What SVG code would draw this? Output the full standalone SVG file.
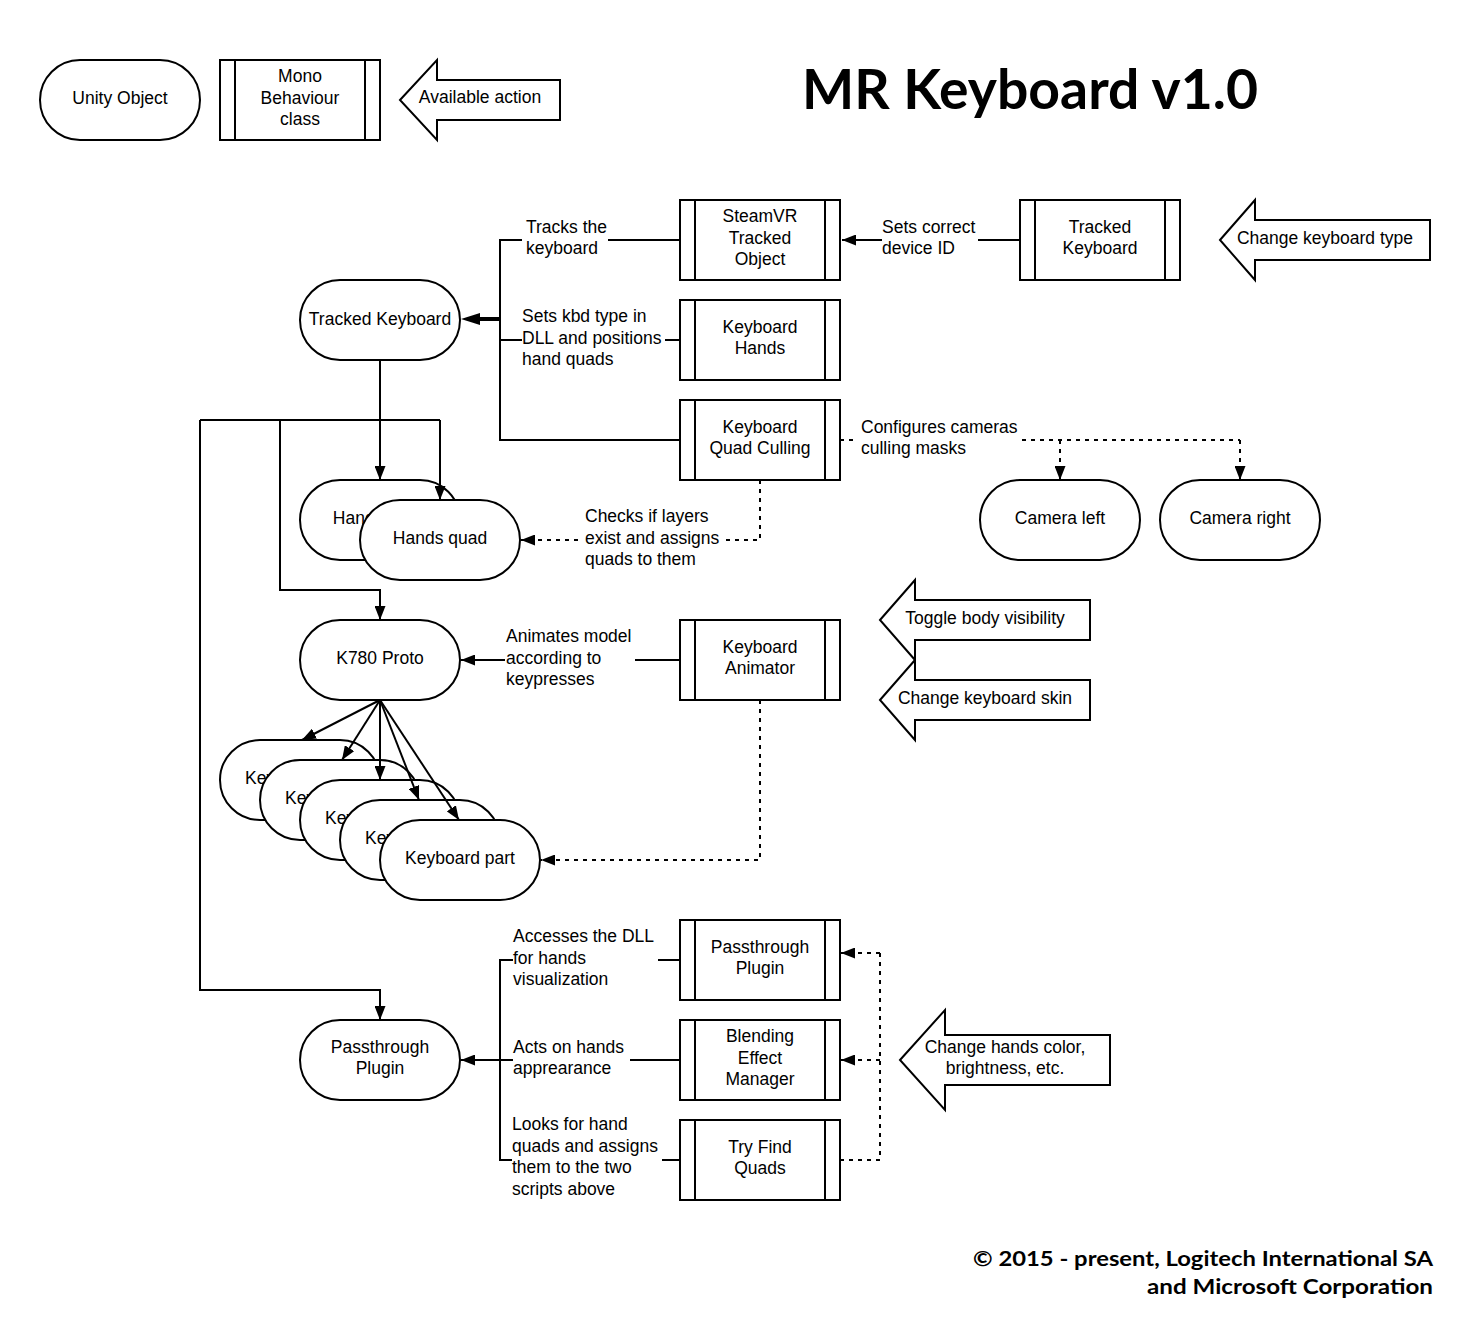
<svg xmlns="http://www.w3.org/2000/svg" width="1480" height="1340" viewBox="0 0 1480 1340">
<style>
.s{fill:#fff;stroke:#000;stroke-width:2}
.c{fill:none;stroke:#000;stroke-width:2}
.d{fill:none;stroke:#000;stroke-width:2;stroke-dasharray:4 5}
.ar{marker-end:url(#ah)}
text{font-family:"Liberation Sans",Arial,sans-serif;font-size:17.5px;fill:#000}
.m{text-anchor:middle}
text.title{font-family:Lato,"Open Sans",sans-serif;font-weight:700;font-size:55px}
text.copy{font-family:Lato,"Open Sans",sans-serif;font-weight:700;font-size:21px;text-anchor:end}
</style>
<defs>
<marker id="ah" markerUnits="userSpaceOnUse" markerWidth="15" markerHeight="11" refX="14" refY="5.5" orient="auto"><path d="M0,0 L14,5.5 L0,11 z" fill="#000"/></marker>
</defs>
<rect width="1480" height="1340" fill="#fff"/>

<!-- Legend -->
<g id="legend-unity">
<rect class="s" x="40" y="60" width="160" height="80" rx="40"/>
<text class="m" x="120" y="104">Unity Object</text>
</g>
<g id="legend-mono">
<rect class="s" x="220" y="60" width="160" height="80"/>
<line class="c" x1="235" y1="60" x2="235" y2="140"/><line class="c" x1="365" y1="60" x2="365" y2="140"/>
<text class="m" x="300" y="82">Mono</text><text class="m" x="300" y="103.5">Behaviour</text><text class="m" x="300" y="125">class</text>
</g>
<g id="legend-action">
<polygon class="s" points="400,100 437,60 437,80 560,80 560,120 437,120 437,140"/>
<text class="m" x="480" y="103">Available action</text>
</g>

<text class="title" x="802" y="109" textLength="456" lengthAdjust="spacingAndGlyphs">MR Keyboard v1.0</text>

<!-- Nodes -->
<g id="tracked-keyboard-obj">
<rect class="s" x="300" y="280" width="160" height="80" rx="40"/>
<text class="m" x="380" y="325">Tracked Keyboard</text>
</g>
<g id="steamvr-tracked-object">
<rect class="s" x="680" y="200" width="160" height="80"/>
<line class="c" x1="695" y1="200" x2="695" y2="280"/><line class="c" x1="825" y1="200" x2="825" y2="280"/>
<text class="m" x="760" y="222">SteamVR</text><text class="m" x="760" y="243.5">Tracked</text><text class="m" x="760" y="265">Object</text>
</g>
<g id="keyboard-hands">
<rect class="s" x="680" y="300" width="160" height="80"/>
<line class="c" x1="695" y1="300" x2="695" y2="380"/><line class="c" x1="825" y1="300" x2="825" y2="380"/>
<text class="m" x="760" y="333">Keyboard</text><text class="m" x="760" y="354">Hands</text>
</g>
<g id="keyboard-quad-culling">
<rect class="s" x="680" y="400" width="160" height="80"/>
<line class="c" x1="695" y1="400" x2="695" y2="480"/><line class="c" x1="825" y1="400" x2="825" y2="480"/>
<text class="m" x="760" y="433">Keyboard</text><text class="m" x="760" y="454">Quad Culling</text>
</g>
<g id="tracked-keyboard-class">
<rect class="s" x="1020" y="200" width="160" height="80"/>
<line class="c" x1="1035" y1="200" x2="1035" y2="280"/><line class="c" x1="1165" y1="200" x2="1165" y2="280"/>
<text class="m" x="1100" y="233">Tracked</text><text class="m" x="1100" y="254">Keyboard</text>
</g>
<g id="action-change-keyboard-type">
<polygon class="s" points="1220,240 1255,200 1255,220 1430,220 1430,260 1255,260 1255,280"/>
<text class="m" x="1325" y="244">Change keyboard type</text>
</g>
<g id="hands-quad-back">
<rect class="s" x="300" y="480" width="160" height="80" rx="40"/>
<text class="m" x="380" y="524">Hands quad</text>
</g>
<g id="hands-quad-front">
<rect class="s" x="360" y="500" width="160" height="80" rx="40"/>
<text class="m" x="440" y="544">Hands quad</text>
</g>
<g id="camera-left">
<rect class="s" x="980" y="480" width="160" height="80" rx="40"/>
<text class="m" x="1060" y="524">Camera left</text>
</g>
<g id="camera-right">
<rect class="s" x="1160" y="480" width="160" height="80" rx="40"/>
<text class="m" x="1240" y="524">Camera right</text>
</g>
<g id="k780-proto">
<rect class="s" x="300" y="620" width="160" height="80" rx="40"/>
<text class="m" x="380" y="664">K780 Proto</text>
</g>
<g id="keyboard-animator">
<rect class="s" x="680" y="620" width="160" height="80"/>
<line class="c" x1="695" y1="620" x2="695" y2="700"/><line class="c" x1="825" y1="620" x2="825" y2="700"/>
<text class="m" x="760" y="653">Keyboard</text><text class="m" x="760" y="674">Animator</text>
</g>
<g id="action-toggle-body">
<polygon class="s" points="880,620 915,580 915,600 1090,600 1090,640 915,640 915,660"/>
<text class="m" x="985" y="624">Toggle body visibility</text>
</g>
<g id="action-change-skin">
<polygon class="s" points="880,700 915,660 915,680 1090,680 1090,720 915,720 915,740"/>
<text class="m" x="985" y="704">Change keyboard skin</text>
</g>
<g id="keyboard-part-1">
<rect class="s" x="220" y="740" width="160" height="80" rx="40"/>
<text class="m" x="300" y="784">Keyboard part</text>
</g>
<g id="keyboard-part-2">
<rect class="s" x="260" y="760" width="160" height="80" rx="40"/>
<text class="m" x="340" y="804">Keyboard part</text>
</g>
<g id="keyboard-part-3">
<rect class="s" x="300" y="780" width="160" height="80" rx="40"/>
<text class="m" x="380" y="824">Keyboard part</text>
</g>
<g id="keyboard-part-4">
<rect class="s" x="340" y="800" width="160" height="80" rx="40"/>
<text class="m" x="420" y="844">Keyboard part</text>
</g>
<g id="keyboard-part-5">
<rect class="s" x="380" y="820" width="160" height="80" rx="40"/>
<text class="m" x="460" y="864">Keyboard part</text>
</g>
<g id="passthrough-plugin-obj">
<rect class="s" x="300" y="1020" width="160" height="80" rx="40"/>
<text class="m" x="380" y="1053">Passthrough</text><text class="m" x="380" y="1074">Plugin</text>
</g>
<g id="passthrough-plugin-class">
<rect class="s" x="680" y="920" width="160" height="80"/>
<line class="c" x1="695" y1="920" x2="695" y2="1000"/><line class="c" x1="825" y1="920" x2="825" y2="1000"/>
<text class="m" x="760" y="953">Passthrough</text><text class="m" x="760" y="974">Plugin</text>
</g>
<g id="blending-effect-manager">
<rect class="s" x="680" y="1020" width="160" height="80"/>
<line class="c" x1="695" y1="1020" x2="695" y2="1100"/><line class="c" x1="825" y1="1020" x2="825" y2="1100"/>
<text class="m" x="760" y="1042">Blending</text><text class="m" x="760" y="1063.5">Effect</text><text class="m" x="760" y="1085">Manager</text>
</g>
<g id="try-find-quads">
<rect class="s" x="680" y="1120" width="160" height="80"/>
<line class="c" x1="695" y1="1120" x2="695" y2="1200"/><line class="c" x1="825" y1="1120" x2="825" y2="1200"/>
<text class="m" x="760" y="1153">Try Find</text><text class="m" x="760" y="1174">Quads</text>
</g>
<g id="action-change-hands">
<polygon class="s" points="900,1060 945,1010 945,1035 1110,1035 1110,1085 945,1085 945,1110"/>
<text class="m" x="1005" y="1053">Change hands color,</text><text class="m" x="1005" y="1074">brightness, etc.</text>
</g>

<!-- Connectors -->
<g id="connectors">
<path class="c" d="M680,240 H608 M522,240 H500 V440 H680"/>
<path class="c" d="M680,340 H665 M522,340 H500"/>
<line x1="478" y1="319" x2="500" y2="319" stroke="#000" stroke-width="4"/>
<path d="M461,319 L480,313 L480,325 z" fill="#000"/>
<path class="c ar" d="M978,240 H1020 M882,240 H842"/>
<path class="c ar" d="M380,360 V480"/>
<path class="c" d="M200,420 H440"/>
<path class="c ar" d="M440,420 V500"/>
<path class="c ar" d="M280,420 V590 H380 V620"/>
<path class="c ar" d="M200,420 V990 H380 V1020"/>
<path class="d" d="M760,480 V540 H722"/>
<path class="d ar" d="M578,540 H521"/>
<path class="d" d="M840,440 H858"/>
<path class="d" d="M1022,440 H1240"/>
<path class="d ar" d="M1060,440 V480"/>
<path class="d ar" d="M1240,440 V480"/>
<path class="c" d="M680,660 H635"/>
<path class="c ar" d="M505,660 H461"/>
<path class="d ar" d="M760,700 V860 H541"/>
<path class="c ar" d="M380,700 L302,740"/>
<path class="c ar" d="M380,700 L342,760"/>
<path class="c ar" d="M380,700 L380,780"/>
<path class="c ar" d="M380,700 L419,800"/>
<path class="c ar" d="M380,700 L459,820"/>
<path class="c" d="M680,960 H658 M513,960 H500 V1160 H512 M662,1160 H680"/>
<path class="c" d="M680,1060 H630 M513,1060 H500"/>
<path class="c ar" d="M500,1060 H461"/>
<path class="d" d="M840,1160 H880 V953"/>
<path class="d ar" d="M880,953 H841"/>
<path class="d ar" d="M880,1060 H841"/>
</g>

<!-- Labels -->
<g id="labels">
<text x="526" y="233">Tracks the</text><text x="526" y="254">keyboard</text>
<text x="522" y="322">Sets kbd type in</text><text x="522" y="343.5">DLL and positions</text><text x="522" y="365">hand quads</text>
<text x="882" y="233">Sets correct</text><text x="882" y="254">device ID</text>
<text x="861" y="433">Configures cameras</text><text x="861" y="454">culling masks</text>
<text x="585" y="522">Checks if layers</text><text x="585" y="543.5">exist and assigns</text><text x="585" y="565">quads to them</text>
<text x="506" y="642">Animates model</text><text x="506" y="663.5">according to</text><text x="506" y="685">keypresses</text>
<text x="513" y="942">Accesses the DLL</text><text x="513" y="963.5">for hands</text><text x="513" y="985">visualization</text>
<text x="513" y="1053">Acts on hands</text><text x="513" y="1074">apprearance</text>
<text x="512" y="1130">Looks for hand</text><text x="512" y="1151.5">quads and assigns</text><text x="512" y="1173">them to the two</text><text x="512" y="1194.5">scripts above</text>
</g>

<g id="copyright">
<text class="copy" x="1433" y="1266" textLength="460" lengthAdjust="spacingAndGlyphs">© 2015 - present, Logitech International SA</text>
<text class="copy" x="1433" y="1294" textLength="286" lengthAdjust="spacingAndGlyphs">and Microsoft Corporation</text>
</g>
</svg>
